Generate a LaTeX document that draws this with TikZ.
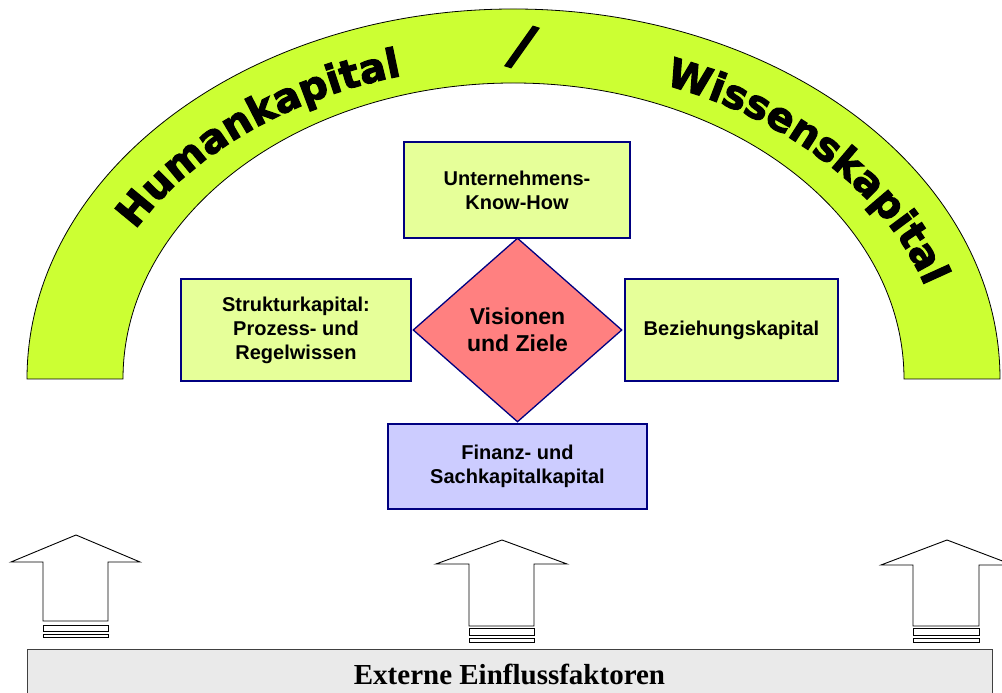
\documentclass[tikz,border=0pt]{standalone}
\usepackage{fontspec}
\setmainfont{Liberation Sans}
\newfontfamily\serifbold{Liberation Serif}
\newfontfamily\arcfont{DejaVu Sans}[BoldFeatures={FakeBold=2.6}]
\usetikzlibrary{shapes.geometric,decorations.text}
\definecolor{arcgreen}{HTML}{CCFF33}
\definecolor{boxgreen}{HTML}{E6FF99}
\definecolor{navyline}{HTML}{000080}
\definecolor{rosefill}{HTML}{FF8080}
\definecolor{lavfill}{HTML}{CCCCFF}
\definecolor{barfill}{HTML}{EAEAEA}
\newcommand\arcstyle{\arcfont\bfseries\fontsize{40}{40}\selectfont}
\begin{document}
\begin{tikzpicture}[x=1pt,y=1pt,
  arcband/.style={draw=black, line width=0.8pt, fill=arcgreen},
  capbox/.style={rectangle, draw=navyline, line width=1.3pt, fill=boxgreen, align=center, inner sep=0pt,
    font=\bfseries\fontsize{20}{24}\selectfont},
  finbox/.style={capbox, fill=lavfill},
  visdia/.style={diamond, draw=navyline, line width=1.3pt, fill=rosefill, align=center, inner sep=0pt,
    aspect=1.136, font=\bfseries\fontsize{23}{27}\selectfont},
  uparrow/.style={draw=black, line width=0.9pt, fill=white, line join=miter},
  basebar/.style={rectangle, draw=black!75, line width=1pt, fill=barfill, inner sep=0pt,
    font=\serifbold\bfseries\fontsize{29}{32}\selectfont}
]
\useasboundingbox (0,0) rectangle (1002,693);
\clip (0,0) rectangle (1002,693);

% arch band
\draw[arcband] (27,314) arc[start angle=180,end angle=0,x radius=486.5,y radius=370]
  -- (904,314) arc[start angle=0,end angle=180,x radius=390.5,y radius=296] -- cycle;

% arch texts
\path[decorate, decoration={text along path, text align=left, text={|\arcstyle|Humankapital}}]
  (135.4,462.9) arc[start angle=151.7, end angle=92, x radius=430, y radius=314];
\path[decorate, decoration={text along path, text align=left, text={|\arcstyle|Wissenskapital}}]
  (664.6,608.1) arc[start angle=69.5, end angle=-5, x radius=430, y radius=314];
\node[font=\arcfont\bfseries\fontsize{56}{56}\selectfont, rotate=-18] (slash) at (522,646) {/};

% boxes
\node[capbox, minimum width=226pt, minimum height=96pt] (know) at (517,503) {Unternehmens-\\Know-How};
\node[capbox, minimum width=230pt, minimum height=102pt] (struk) at (296,363) {Strukturkapital:\\Prozess- und\\Regelwissen};
\node[capbox, minimum width=213pt, minimum height=102pt] (bez) at (731.5,363) {Beziehungskapital};
\node[finbox, minimum width=259pt, minimum height=85pt] (fin) at (517.5,226.5) {Finanz- und\\Sachkapitalkapital};
\node[visdia, minimum width=209pt, minimum height=184pt] (vis) at (517.5,363) {Visionen\\und Ziele};

% arrows
\draw[uparrow] (11,131) -- (76,158) -- (140,131) -- (108,131) -- (108,72) -- (43,72) -- (43,131) -- cycle;
\draw[uparrow] (43,68) rectangle (108,62);
\draw[uparrow] (43,59) rectangle (108,56);

\draw[uparrow] (436,129) -- (502,153) -- (567,129) -- (534,129) -- (534,67) -- (469,67) -- (469,129) -- cycle;
\draw[uparrow] (469,65) rectangle (534,58);
\draw[uparrow] (469,55) rectangle (534,51);

\draw[uparrow] (881,128) -- (947,153) -- (1013,128) -- (979,128) -- (979,67) -- (913,67) -- (913,128) -- cycle;
\draw[uparrow] (913,65) rectangle (979,58);
\draw[uparrow] (913,55) rectangle (979,51);

% base bar
\node[basebar, minimum width=965pt, minimum height=48pt] (extern) at (509.5,19) {Externe Einflussfaktoren};
\end{tikzpicture}
\end{document}
